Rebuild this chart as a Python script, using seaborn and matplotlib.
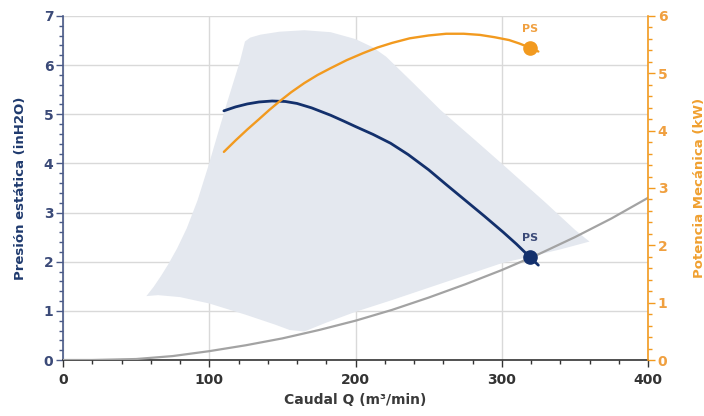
import numpy as np
import pandas as pd
import matplotlib
matplotlib.use("Agg")
import matplotlib.pyplot as plt
from matplotlib.ticker import MultipleLocator
import seaborn as sns

# Curva de presión estática (inH2O) vs caudal (m3/min)
q_pres = [110, 118, 126, 134, 143, 152, 160, 170, 183, 192, 200, 212, 224,
          236, 250, 262, 275, 288, 301, 310, 319, 325]
pres = [5.07, 5.15, 5.21, 5.25, 5.27, 5.26, 5.22, 5.13, 4.98, 4.86, 4.75, 4.59, 4.41,
        4.18, 3.87, 3.57, 3.25, 2.93, 2.60, 2.36, 2.10, 1.93]

# Curva de potencia mecánica (kW)
q_pot = [110, 118, 126, 134, 141, 148, 156, 165, 174, 183, 194, 205, 215,
         225, 237, 250, 262, 274, 285, 295, 305, 312, 319, 325]
pot = [3.63, 3.83, 4.02, 4.20, 4.36, 4.51, 4.67, 4.83, 4.97, 5.09, 5.23, 5.35, 5.45,
       5.53, 5.61, 5.66, 5.69, 5.69, 5.67, 5.63, 5.58, 5.52, 5.45, 5.38]

# Curva del sistema (gris)
q_sis = [0, 20, 50, 75, 100, 125, 150, 175, 200, 225, 250, 275, 300, 325, 350, 375, 400]
sis = [0, 0, 0.02, 0.08, 0.18, 0.30, 0.44, 0.61, 0.80, 1.02, 1.27, 1.54, 1.83, 2.15, 2.50, 2.88, 3.30]

# Zona de trabajo (sombreada): borde superior, derecho, inferior e izquierdo
zona_q = [124.4, 128, 135, 148, 165, 183, 200, 212, 221, 240, 258, 280, 301, 330, 350, 357, 360,
          340, 320, 300, 275, 250, 225, 200, 180, 165, 155, 145, 125, 100, 80, 65, 57,
          62, 67, 72, 78, 84.6, 92, 99.4, 106, 112, 117, 121]
zona_p = [6.48, 6.56, 6.62, 6.68, 6.71, 6.67, 6.53, 6.36, 6.17, 5.62, 5.09, 4.52, 3.97, 3.20, 2.65, 2.48, 2.41,
          2.25, 2.11, 1.97, 1.72, 1.47, 1.22, 0.98, 0.76, 0.58, 0.61, 0.72, 0.92, 1.15, 1.28, 1.32, 1.30,
          1.49, 1.71, 1.95, 2.27, 2.68, 3.25, 3.95, 4.62, 5.22, 5.70, 6.08]

# Punto de servicio
ps_q = 319
ps_pres = 2.09
ps_pot = 5.45

navy = "#13306c"
orange = "#f29a1f"
gray = "#a3a3a3"

sns.set_style("white")
plt.rcParams["font.family"] = ["DejaVu Sans"]

fig = plt.figure(figsize=(7.04, 4.16), dpi=100)
ax = fig.add_axes([0.0895, 0.1346, 0.831, 0.827])
ax2 = ax.twinx()

ax.fill(zona_q, zona_p, color="#e4e8ef", lw=0, zorder=1)

df_sis = pd.DataFrame({"q": q_sis, "p": sis})
sns.lineplot(data=df_sis, x="q", y="p", ax=ax, color=gray, lw=1.6, zorder=3)

df_pres = pd.DataFrame({"q": q_pres, "p": pres})
sns.lineplot(data=df_pres, x="q", y="p", ax=ax, color=navy, lw=2.0, zorder=4)
ax.plot([ps_q], [ps_pres], "o", color=navy, ms=9.5, zorder=5)
ax.annotate("PS", (ps_q, ps_pres), xytext=(0, 10), textcoords="offset points",
            ha="center", va="bottom", fontsize=8, fontweight="bold", color="#3b4a78")

df_pot = pd.DataFrame({"q": q_pot, "p": pot})
sns.lineplot(data=df_pot, x="q", y="p", ax=ax2, color=orange, lw=1.7, zorder=4)
ax2.plot([ps_q], [ps_pot], "o", color=orange, ms=9.5, zorder=5)
ax2.annotate("PS", (ps_q, ps_pot), xytext=(0, 10), textcoords="offset points",
             ha="center", va="bottom", fontsize=8, fontweight="bold", color="#f0a040")

ax.set_xlim(0, 400)
ax.set_ylim(0, 7)
ax2.set_ylim(0, 6)
ax.xaxis.set_major_locator(MultipleLocator(100))
ax.xaxis.set_minor_locator(MultipleLocator(20))
ax.yaxis.set_major_locator(MultipleLocator(1))
ax.yaxis.set_minor_locator(MultipleLocator(0.2))
ax2.yaxis.set_major_locator(MultipleLocator(1))
ax2.yaxis.set_minor_locator(MultipleLocator(0.2))

ax.grid(True, which="major", color="#d9d9d9", lw=1.0)
ax.set_axisbelow(True)
ax.set_zorder(ax2.get_zorder() - 1)
ax.patch.set_visible(True)
ax2.patch.set_visible(False)

for a in (ax, ax2):
    a.spines["top"].set_visible(False)
ax.spines["right"].set_visible(False)
ax2.spines["left"].set_visible(False)
ax2.spines["bottom"].set_visible(False)
ax.spines["left"].set_color("#4a5a88")
ax.spines["bottom"].set_color("#333333")
ax2.spines["right"].set_color(orange)
for s in ("left", "bottom"):
    ax.spines[s].set_linewidth(1.2)
ax2.spines["right"].set_linewidth(1.2)

ax.tick_params(axis="x", which="major", direction="out", length=5, width=1, colors="#333333",
               labelsize=10, pad=4, bottom=True)
ax.tick_params(axis="x", which="minor", direction="out", length=3, width=1, colors="#333333", bottom=True)
ax.tick_params(axis="y", which="major", direction="out", length=5, width=1, color="#4a5a88",
               labelcolor="#3b4a78", labelsize=10, pad=2, left=True)
ax.tick_params(axis="y", which="minor", direction="out", length=3, width=1, color="#4a5a88", left=True)
ax2.tick_params(axis="y", which="major", direction="out", length=5, width=1, color=orange,
                labelcolor="#f0a040", labelsize=10, pad=2, right=True)
ax2.tick_params(axis="y", which="minor", direction="out", length=3, width=1, color=orange, right=True)
for lab in ax.get_xticklabels() + ax.get_yticklabels() + ax2.get_yticklabels():
    lab.set_fontweight("bold")

ax.set_xlabel("Caudal Q (m³/min)", fontsize=10, fontweight="bold", color="#3a3a3a", labelpad=5)
ax.set_ylabel("Presión estática (inH2O)", fontsize=9.5, fontweight="bold", color="#1f3a6e", labelpad=12)
ax2.set_ylabel("Potencia Mecánica (kW)", fontsize=9.5, fontweight="bold", color="#f0a030", labelpad=18)

fig.savefig("out.png", dpi=100)
